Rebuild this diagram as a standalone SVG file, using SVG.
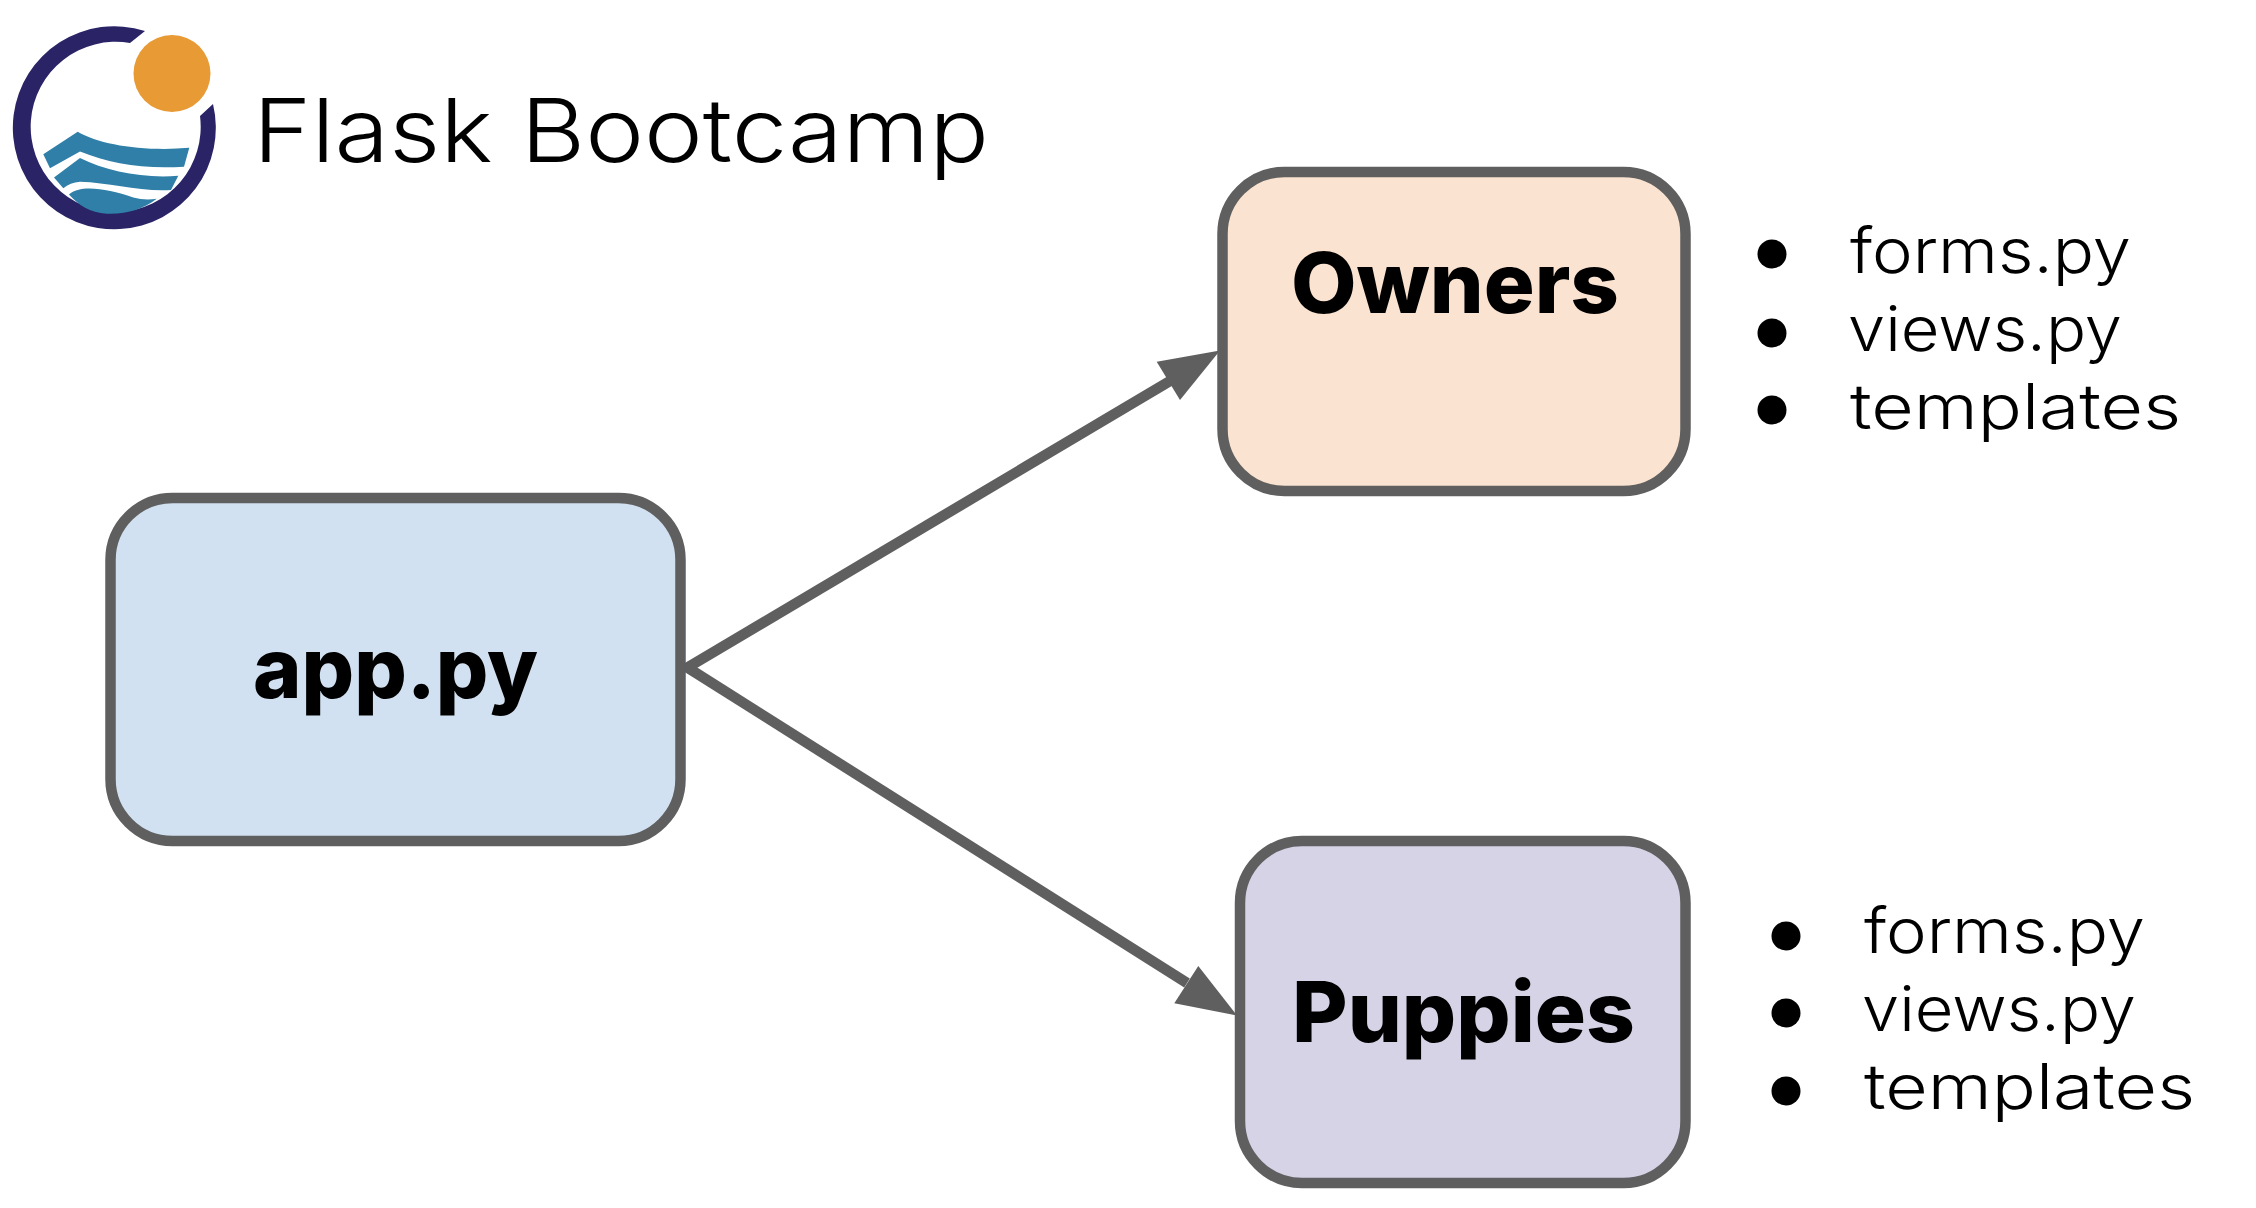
<svg xmlns="http://www.w3.org/2000/svg" width="2256" height="1208" viewBox="0 0 2256 1208">
<style>
.box{stroke:#5f5f5f;stroke-width:10.500}
.conn{stroke:#5f5f5f;stroke-width:10.500;fill:none}
.head{fill:#5f5f5f}
.label{font-family:"Inter","Liberation Sans",sans-serif;font-weight:800;font-size:84px;fill:#000}
.item{font-family:"Inter","Liberation Sans",sans-serif;font-weight:300;font-size:63px;fill:#000}
.title{font-family:"Inter","Liberation Sans",sans-serif;font-weight:300;font-size:88px;fill:#000}
.wave{fill:#2f7fa8}
</style>
<rect width="2256" height="1208" fill="#fff"/>
<g id="logo">
<path d="M145 31A101.500 101.500 0 1 0 213 104L200 116A85 85 0 1 1 130 43Z" fill="#2a2466"/>
<circle cx="172" cy="73.500" r="38.500" fill="#e89a35"/>
<g transform="translate(0 131.700) scale(1 1.130) translate(0 -131.700)">
<path class="wave" d="M77.700 131.700C100 143.300 143.300 149.300 189.300 146L184 162.700C143.300 165 110 160 80 149.300L50 164L43.300 151.700Z"/>
<path class="wave" d="M54 172.300L80 155C106.700 166.700 143.300 173.300 178.300 170.700L171 183.300C140 185 110 176.700 80 176Q70 176.700 63.300 181.700Z"/>
<path class="wave" d="M69 187.300C80 178.300 106.700 181.700 133.300 190Q145 192.700 156.700 191C143.300 200 126.700 205 106.700 204.300C90 203.300 78.300 196.700 69 187.300Z"/>
</g>
</g>
<text id="title" class="title" x="253" y="162" textLength="736" lengthAdjust="spacingAndGlyphs">Flask Bootcamp</text>
<g id="connectors">
<line class="conn" x1="685" y1="669" x2="1170" y2="381"/>
<polygon class="head" points="1220,350.500 1156.700,361.700 1180,400"/>
<line class="conn" x1="685" y1="666" x2="1187" y2="983"/>
<polygon class="head" points="1237,1015.500 1198.300,966 1174.300,1003.300"/>
</g>
<g id="app">
<rect class="box" x="110.500" y="498" width="570" height="343" rx="62" fill="#d2e1f1"/>
<text class="label" x="253" y="698" textLength="285" lengthAdjust="spacingAndGlyphs">app.py</text>
</g>
<g id="owners">
<rect class="box" x="1222.500" y="172" width="463" height="319" rx="62" fill="#fae3d0"/>
<text class="label" x="1291" y="313" textLength="328" lengthAdjust="spacingAndGlyphs">Owners</text>
</g>
<g id="puppies">
<rect class="box" x="1240" y="841" width="445.500" height="342" rx="62" fill="#d6d3e7"/>
<text class="label" x="1292" y="1042" textLength="343" lengthAdjust="spacingAndGlyphs">Puppies</text>
</g>
<g id="owners-list">
<circle cx="1772" cy="254" r="14.500"/><circle cx="1772" cy="333" r="14.500"/><circle cx="1772" cy="410" r="14.500"/>
<text class="item" x="1850" y="273" textLength="281" lengthAdjust="spacingAndGlyphs">forms.py</text>
<text class="item" x="1848" y="351" textLength="274" lengthAdjust="spacingAndGlyphs">views.py</text>
<text class="item" x="1850" y="429" textLength="331" lengthAdjust="spacingAndGlyphs">templates</text>
</g>
<g id="puppies-list">
<circle cx="1786" cy="936" r="14.500"/><circle cx="1786" cy="1013" r="14.500"/><circle cx="1786" cy="1091" r="14.500"/>
<text class="item" x="1864" y="953" textLength="281" lengthAdjust="spacingAndGlyphs">forms.py</text>
<text class="item" x="1862" y="1031" textLength="274" lengthAdjust="spacingAndGlyphs">views.py</text>
<text class="item" x="1864" y="1109" textLength="331" lengthAdjust="spacingAndGlyphs">templates</text>
</g>
</svg>
